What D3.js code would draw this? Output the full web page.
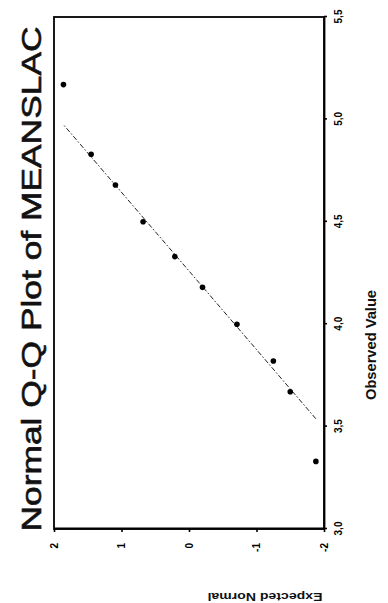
<!DOCTYPE html>
<html>
<head>
<meta charset="utf-8">
<script src="https://cdn.jsdelivr.net/npm/d3@7"></script>
<style>
  html, body { margin: 0; padding: 0; background: #fff; }
  svg { display: block; font-family: Arial, "Liberation Sans", sans-serif; }
</style>
</head>
<body>
<svg id="chart" width="388" height="603"></svg>
<script>
// Q-Q points
const expectedNormal = [1.86, 1.45, 1.09, 0.68, 0.21, -0.20, -0.71, -1.25, -1.50, -1.88];
const observedValue = [5.17, 4.83, 4.68, 4.50, 4.33, 4.18, 4.00, 3.82, 3.67, 3.33];

// reference line: observed = lineMean + lineSd * expected
const lineMean = 4.26;
const lineSd = 0.384;

const xTicks = [3.0, 3.5, 4.0, 4.5, 5.0, 5.5];
const xTickLabels = ['3,0', '3,5', '4,0', '4,5', '5,0', '5,5'];
const yTicks = [-2, -1, 0, 1, 2];
const yTickLabels = ['-2', '-1', '0', '1', '2'];

const W = 388, H = 603;
const svg = d3.select('#chart');

// the page was scanned a quarter turn round, so draw the chart upright and turn it
const g = svg.append('g').attr('transform', `translate(0,${H}) rotate(-90)`);

const x = d3.scaleLinear().domain([3, 5.5]).range([74, 586]);
const y = d3.scaleLinear().domain([-2, 2]).range([324, 54]);

// frame
g.append('rect')
  .attr('x', x(3)).attr('y', y(2))
  .attr('width', x(5.5) - x(3)).attr('height', y(-2) - y(2))
  .attr('fill', 'none')
  .attr('stroke', '#000')
  .attr('stroke-width', 1.8);

// x axis (Observed Value)
const xAxis = g.append('g')
  .attr('transform', `translate(0,${y(-2)})`)
  .call(d3.axisBottom(x)
    .tickValues(xTicks)
    .tickFormat((d, i) => xTickLabels[i])
    .tickSize(3).tickSizeOuter(0).tickPadding(8));

// y axis (Expected Normal)
const yAxis = g.append('g')
  .attr('transform', `translate(${x(3)},0)`)
  .call(d3.axisLeft(y)
    .tickValues(yTicks)
    .tickFormat((d, i) => yTickLabels[i])
    .tickSize(3).tickSizeOuter(0).tickPadding(11));

[xAxis, yAxis].forEach(a => {
  a.select('.domain').attr('stroke-width', 1.8);
  a.selectAll('.tick line').attr('stroke-width', 1.6);
  a.selectAll('.tick text')
    .style('font-size', '10px')
    .style('font-weight', 'bold')
    .attr('fill', '#000');
});

// reference line over the span of expected values
const eRange = d3.extent(expectedNormal);
g.append('line')
  .attr('x1', x(lineMean + lineSd * eRange[0])).attr('y1', y(eRange[0]))
  .attr('x2', x(lineMean + lineSd * eRange[1])).attr('y2', y(eRange[1]))
  .attr('stroke', '#222')
  .attr('stroke-width', 1)
  .attr('stroke-dasharray', '5,2,1.5,2');

// points
g.append('g')
  .selectAll('circle')
  .data(d3.range(expectedNormal.length))
  .enter()
  .append('circle')
  .attr('cx', i => x(observedValue[i]))
  .attr('cy', i => y(expectedNormal[i]))
  .attr('r', 2.8)
  .attr('fill', '#000');

// title (scan makes it look heavier than plain regular)
g.append('text')
  .attr('x', 324).attr('y', 41)
  .attr('text-anchor', 'middle')
  .attr('textLength', 505)
  .attr('lengthAdjust', 'spacingAndGlyphs')
  .style('font-size', '28px')
  .attr('fill', '#111')
  .attr('stroke', '#111')
  .attr('stroke-width', 0.6)
  .text('Normal Q-Q Plot of MEANSLAC');

// x axis title
g.append('text')
  .attr('x', 258).attr('y', 376)
  .attr('text-anchor', 'middle')
  .attr('textLength', 110)
  .attr('lengthAdjust', 'spacingAndGlyphs')
  .style('font-size', '14px')
  .style('font-weight', 'bold')
  .attr('fill', '#111')
  .text('Observed Value');

// y axis title, squashed as on the scan
g.append('text')
  .attr('transform', `translate(10,${265}) rotate(-90)`)
  .attr('text-anchor', 'middle')
  .attr('textLength', 115)
  .attr('lengthAdjust', 'spacingAndGlyphs')
  .style('font-size', '10px')
  .style('font-weight', 'bold')
  .attr('fill', '#111')
  .text('Expected Normal');
</script>
</body>
</html>
